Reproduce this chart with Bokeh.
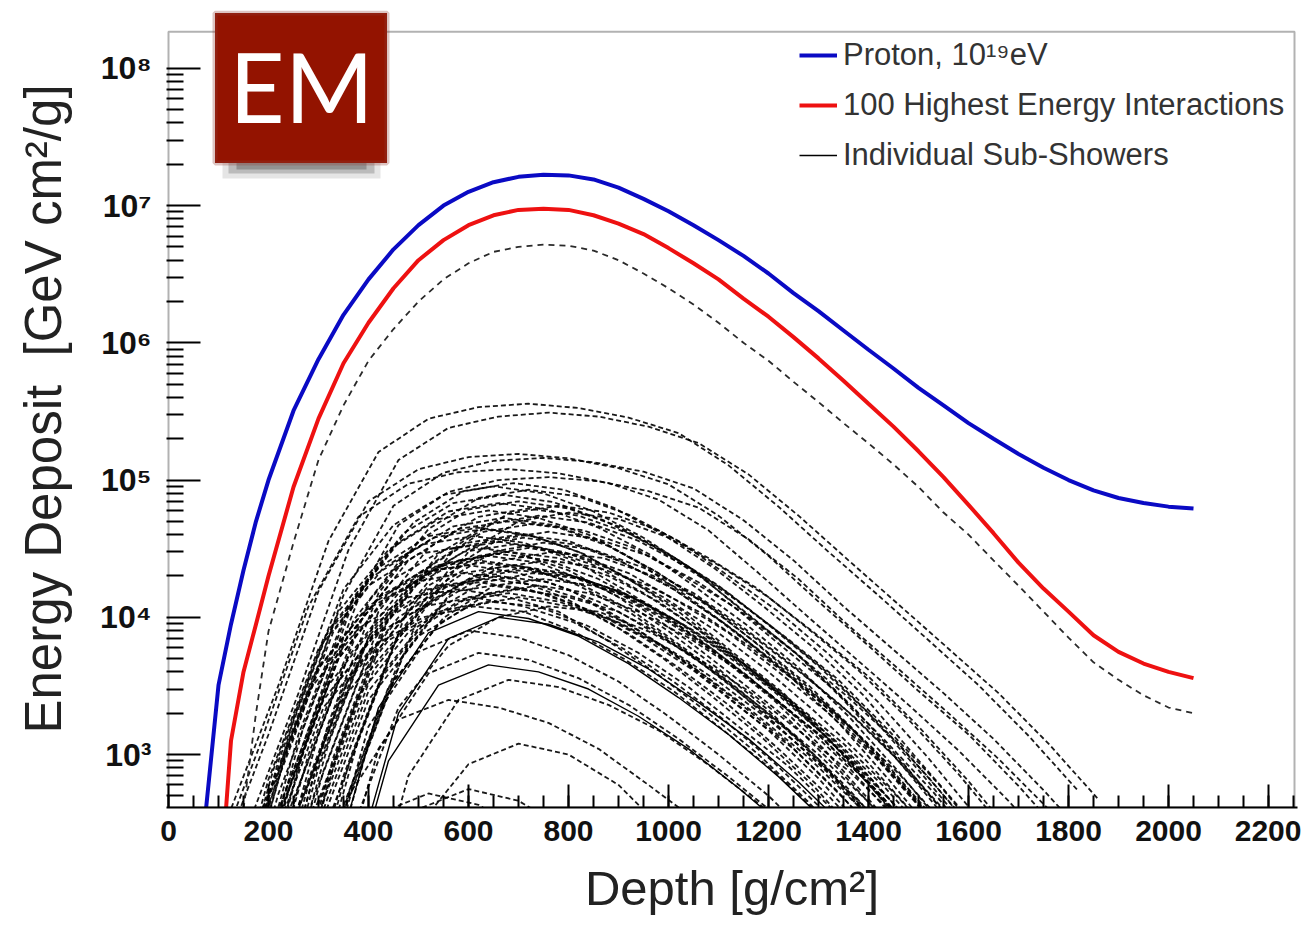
from bokeh.plotting import figure
from bokeh.models import (Range1d, SingleIntervalTicker, FixedTicker, CustomJSTickFormatter,
                          Legend, LegendItem, Label, BoxAnnotation)
from bokeh.embed import file_html
from bokeh.resources import INLINE

# ---------------- data ----------------
BLUE_DEPTH = [75, 100, 125, 150, 175, 200, 250, 300, 350, 400, 450, 500, 550, 600, 650, 700,
              750, 800, 850, 900, 950, 1000, 1050, 1100, 1150, 1200, 1250, 1300, 1350, 1400,
              1450, 1500, 1550, 1600, 1650, 1700, 1750, 1800, 1850, 1900, 1950, 2000, 2050]
PROTON = [400, 3.2e3, 8.9e3, 2.2e4, 5.0e4, 1.0e5, 3.2e5, 7.6e5, 1.6e6, 2.9e6, 4.8e6, 7.2e6,
          1.0e7, 1.26e7, 1.48e7, 1.62e7, 1.68e7, 1.66e7, 1.55e7, 1.35e7, 1.12e7, 9.1e6, 7.2e6,
          5.6e6, 4.3e6, 3.2e6, 2.3e6, 1.7e6, 1.23e6, 8.9e5, 6.5e5, 4.7e5, 3.5e5, 2.6e5, 2.0e5,
          1.55e5, 1.23e5, 1.0e5, 8.4e4, 7.4e4, 6.8e4, 6.4e4, 6.2e4]

RED_DEPTH = [115, 125, 150, 175, 200, 250, 300, 350, 400, 450, 500, 550, 600, 650, 700, 750,
             800, 850, 900, 950, 1000, 1050, 1100, 1150, 1200, 1250, 1300, 1350, 1400, 1450,
             1500, 1550, 1600, 1650, 1700, 1750, 1800, 1850, 1900, 1950, 2000, 2050]
TOP100 = [400, 1.26e3, 4.0e3, 8.9e3, 2.0e4, 8.9e4, 2.8e5, 7.1e5, 1.4e6, 2.5e6, 4.0e6, 5.6e6,
          7.2e6, 8.5e6, 9.3e6, 9.5e6, 9.3e6, 8.5e6, 7.4e6, 6.2e6, 4.9e6, 3.8e6, 2.9e6, 2.1e6,
          1.55e6, 1.1e6, 7.7e5, 5.3e5, 3.6e5, 2.45e5, 1.62e5, 1.05e5, 6.6e4, 4.1e4, 2.5e4,
          1.62e4, 1.1e4, 7.4e3, 5.6e3, 4.6e3, 4.0e3, 3.6e3]

LEAD_DEPTH = [150, 175, 200, 250, 300, 350, 400, 450, 500, 550, 600, 650, 700, 750, 800, 850,
              900, 950, 1000, 1050, 1100, 1150, 1200, 1250, 1300, 1350, 1400, 1450, 1500, 1550,
              1600, 1650, 1700, 1750, 1800, 1850, 1900, 1950, 2000, 2050]
LEAD_SUB = [400, 2.0e3, 7.9e3, 3.5e4, 1.4e5, 3.5e5, 7.4e5, 1.26e6, 2.0e6, 2.9e6, 3.8e6, 4.6e6,
            5.0e6, 5.2e6, 5.1e6, 4.7e6, 4.0e6, 3.2e6, 2.5e6, 1.9e6, 1.4e6, 1.0e6, 7.4e5, 5.2e5,
            3.7e5, 2.6e5, 1.85e5, 1.3e5, 8.9e4, 5.8e4, 4.0e4, 2.6e4, 1.7e4, 1.1e4, 7.1e3, 4.7e3,
            3.5e3, 2.7e3, 2.2e3, 2.0e3]

# individual sub-showers: first depth of each, then values sampled every 100 g/cm2
SUB_STEP = 100
SUB_START = [120, 160, 100, 150, 80, 160,
             150, 220, 200, 280, 140, 240, 180, 120, 260, 200, 150, 100, 220, 180, 140, 260,
             100, 200, 160, 120, 240, 80, 180, 140, 170, 230, 110, 190, 270, 130, 210, 90,
             250, 150, 200, 110, 300, 160,
             320, 360, 300, 320, 380, 340, 260,
             400, 300, 220,
             190, 130, 210, 250, 160, 120, 190, 230, 140, 200, 170, 220, 110, 260]
SUB_VALUES = [
    [360, 3.2e3, 3.6e4, 1.6e5, 2.8e5, 3.4e5, 3.6e5, 3.35e5, 2.85e5, 2.2e5, 1.28e5, 6.4e4, 3.0e4, 1.44e4, 6.8e3, 3.2e3, 1.37e3, 540],
    [310, 2.8e3, 3.1e4, 1.4e5, 2.4e5, 2.9e5, 3.1e5, 2.9e5, 2.45e5, 1.86e5, 1.1e5, 5.5e4, 2.6e4, 1.24e4, 5.9e3, 2.8e3, 1.2e3, 470],
    [155, 1.4e3, 1.55e4, 7.0e4, 1.2e5, 1.47e5, 1.55e5, 1.44e5, 1.22e5, 9.3e4, 5.5e4, 2.8e4, 1.3e4, 6.2e3, 2.9e3, 1.4e3, 590, 230],
    [145, 1.3e3, 1.45e4, 6.5e4, 1.13e5, 1.38e5, 1.45e5, 1.35e5, 1.15e5, 8.7e4, 5.1e4, 2.6e4, 1.2e4, 5.8e3, 2.8e3, 1.3e3, 550, 220],
    [120, 1.1e3, 1.2e4, 5.4e4, 9.4e4, 1.14e5, 1.2e5, 1.12e5, 9.5e4, 7.2e4, 4.3e4, 2.1e4, 1.0e4, 4.8e3, 2.3e3, 1.07e3, 460, 180],
    [105, 950, 1.05e4, 4.7e4, 8.2e4, 1.0e5, 1.05e5, 9.8e4, 8.3e4, 6.3e4, 3.7e4, 1.9e4, 8.7e3, 4.2e3, 2.0e3, 930, 400, 160],
    [90, 1.8e3, 1.6e4, 4.7e4, 7.8e4, 9.0e4, 8.0e4, 5.9e4, 3.8e4, 2.2e4, 1.1e4, 5.7e3, 2.5e3, 990, 360, 110],
    [85, 1.7e3, 1.5e4, 4.4e4, 7.4e4, 8.5e4, 7.6e4, 5.6e4, 3.6e4, 2.0e4, 1.1e4, 5.4e3, 2.4e3, 940, 340, 110],
    [70, 1.4e3, 1.3e4, 3.6e4, 6.1e4, 7.0e4, 6.2e4, 4.6e4, 2.9e4, 1.7e4, 8.8e3, 4.4e3, 2.0e3, 770, 280, 90],
    [65, 1.3e3, 1.2e4, 3.4e4, 5.7e4, 6.5e4, 5.8e4, 4.3e4, 2.7e4, 1.6e4, 8.2e3, 4.1e3, 1.8e3, 720, 260, 80],
    [60, 1.2e3, 1.1e4, 3.1e4, 5.2e4, 6.0e4, 5.3e4, 4.0e4, 2.5e4, 1.4e4, 7.6e3, 3.8e3, 1.7e3, 660, 240, 76],
    [55, 1.1e3, 9.9e3, 2.9e4, 4.8e4, 5.5e4, 4.9e4, 3.6e4, 2.3e4, 1.3e4, 6.9e3, 3.5e3, 1.5e3, 610, 220, 69],
    [50, 1.0e3, 9.0e3, 2.6e4, 4.4e4, 5.0e4, 4.5e4, 3.3e4, 2.1e4, 1.2e4, 6.3e3, 3.2e3, 1.4e3, 550, 200, 63],
    [45, 900, 8.1e3, 2.3e4, 3.9e4, 4.5e4, 4.0e4, 3.0e4, 1.9e4, 1.1e4, 5.7e3, 2.8e3, 1.3e3, 500, 180, 57],
    [42, 840, 7.6e3, 2.2e4, 3.7e4, 4.2e4, 3.7e4, 2.8e4, 1.8e4, 1.0e4, 5.3e3, 2.6e3, 1.2e3, 460, 170, 53],
    [40, 800, 7.2e3, 2.1e4, 3.5e4, 4.0e4, 3.6e4, 2.6e4, 1.7e4, 9.6e3, 5.0e3, 2.5e3, 1.1e3, 440, 160, 50],
    [36, 720, 6.5e3, 1.9e4, 3.1e4, 3.6e4, 3.2e4, 2.4e4, 1.5e4, 8.6e3, 4.5e3, 2.3e3, 1.0e3, 400, 140, 45],
    [33, 660, 5.9e3, 1.7e4, 2.9e4, 3.3e4, 2.9e4, 2.2e4, 1.4e4, 7.9e3, 4.2e3, 2.1e3, 920, 360, 130, 42],
    [32, 640, 5.8e3, 1.7e4, 2.8e4, 3.2e4, 2.8e4, 2.1e4, 1.3e4, 7.7e3, 4.0e3, 2.0e3, 900, 350, 130, 40],
    [30, 600, 5.4e3, 1.6e4, 2.6e4, 3.0e4, 2.7e4, 2.0e4, 1.3e4, 7.2e3, 3.8e3, 1.9e3, 840, 330, 120, 38],
    [28, 560, 5.0e3, 1.5e4, 2.4e4, 2.8e4, 2.5e4, 1.8e4, 1.2e4, 6.7e3, 3.5e3, 1.8e3, 780, 310, 110, 35],
    [26, 520, 4.7e3, 1.4e4, 2.3e4, 2.6e4, 2.3e4, 1.7e4, 1.1e4, 6.2e3, 3.3e3, 1.6e3, 730, 290, 100, 33],
    [24, 480, 4.3e3, 1.2e4, 2.1e4, 2.4e4, 2.1e4, 1.6e4, 1.0e4, 5.8e3, 3.0e3, 1.5e3, 670, 260, 96, 30],
    [22, 440, 4.0e3, 1.1e4, 1.9e4, 2.2e4, 2.0e4, 1.5e4, 9.2e3, 5.3e3, 2.8e3, 1.4e3, 620, 240, 88, 28],
    [20, 400, 3.6e3, 1.0e4, 1.7e4, 2.0e4, 1.8e4, 1.3e4, 8.4e3, 4.8e3, 2.5e3, 1.3e3, 560, 220, 80, 25],
    [18, 360, 3.2e3, 9.4e3, 1.6e4, 1.8e4, 1.6e4, 1.2e4, 7.6e3, 4.3e3, 2.3e3, 1.1e3, 500, 200, 72, 23],
    [17, 340, 3.1e3, 8.8e3, 1.5e4, 1.7e4, 1.5e4, 1.1e4, 7.1e3, 4.1e3, 2.1e3, 1.1e3, 480, 190, 68, 21],
    [16, 320, 2.9e3, 8.3e3, 1.4e4, 1.6e4, 1.4e4, 1.1e4, 6.7e3, 3.8e3, 2.0e3, 1.0e3, 450, 180, 64, 20],
    [15, 300, 2.7e3, 7.8e3, 1.3e4, 1.5e4, 1.3e4, 9.9e3, 6.3e3, 3.6e3, 1.9e3, 950, 420, 165, 60, 19],
    [13, 260, 2.3e3, 6.8e3, 1.1e4, 1.3e4, 1.2e4, 8.6e3, 5.5e3, 3.1e3, 1.6e3, 820, 360, 140, 52, 16],
    [78, 1.6e3, 1.4e4, 4.1e4, 6.8e4, 7.8e4, 6.9e4, 5.1e4, 3.3e4, 1.9e4, 9.8e3, 4.9e3, 2.2e3, 860, 310, 98],
    [48, 960, 8.6e3, 2.5e4, 4.2e4, 4.8e4, 4.3e4, 3.2e4, 2.0e4, 1.2e4, 6.0e3, 3.0e3, 1.3e3, 530, 190, 60],
    [39, 780, 7.0e3, 2.0e4, 3.4e4, 3.9e4, 3.5e4, 2.6e4, 1.6e4, 9.4e3, 4.9e3, 2.5e3, 1.1e3, 430, 160, 49],
    [34, 680, 6.1e3, 1.8e4, 3.0e4, 3.4e4, 3.0e4, 2.2e4, 1.4e4, 8.2e3, 4.3e3, 2.1e3, 950, 370, 140, 43],
    [30, 600, 5.4e3, 1.6e4, 2.6e4, 3.0e4, 2.7e4, 2.0e4, 1.3e4, 7.2e3, 3.8e3, 1.9e3, 840, 330, 120, 38],
    [25, 500, 4.5e3, 1.3e4, 2.2e4, 2.5e4, 2.2e4, 1.7e4, 1.1e4, 6.0e3, 3.2e3, 1.6e3, 700, 280, 100, 32],
    [23, 460, 4.1e3, 1.2e4, 2.0e4, 2.3e4, 2.0e4, 1.5e4, 9.7e3, 5.5e3, 2.9e3, 1.4e3, 640, 250, 92, 29],
    [21, 420, 3.8e3, 1.1e4, 1.8e4, 2.1e4, 1.9e4, 1.4e4, 8.8e3, 5.0e3, 2.6e3, 1.3e3, 590, 230, 84, 26],
    [19, 380, 3.4e3, 9.9e3, 1.7e4, 1.9e4, 1.7e4, 1.3e4, 8.0e3, 4.6e3, 2.4e3, 1.2e3, 530, 210, 76, 24],
    [17, 340, 3.1e3, 8.8e3, 1.5e4, 1.7e4, 1.5e4, 1.1e4, 7.1e3, 4.1e3, 2.1e3, 1.1e3, 480, 190, 68, 21],
    [14, 280, 2.5e3, 7.3e3, 1.2e4, 1.4e4, 1.2e4, 9.2e3, 5.9e3, 3.4e3, 1.8e3, 880, 390, 150, 56, 18],
    [12, 240, 2.2e3, 6.2e3, 1.0e4, 1.2e4, 1.1e4, 7.9e3, 5.0e3, 2.9e3, 1.5e3, 760, 340, 130, 48, 15],
    [58, 1.2e3, 1.0e4, 3.0e4, 5.0e4, 5.8e4, 5.2e4, 3.8e4, 2.4e4, 1.4e4, 7.3e3, 3.7e3, 1.6e3, 640, 230, 73],
    [68, 1.4e3, 1.2e4, 3.5e4, 5.9e4, 6.8e4, 6.1e4, 4.5e4, 2.9e4, 1.6e4, 8.6e3, 4.3e3, 1.9e3, 750, 270, 86],
    [110, 2.2e3, 7.7e3, 1.1e4, 9.8e3, 7.3e3, 4.6e3, 2.6e3, 1.4e3, 690, 310, 120],
    [100, 2.0e3, 7.0e3, 1.0e4, 8.9e3, 6.6e3, 4.2e3, 2.4e3, 1.3e3, 630, 280, 110],
    [80, 1.6e3, 5.6e3, 8.0e3, 7.1e3, 5.3e3, 3.4e3, 1.9e3, 1.0e3, 500, 220, 88],
    [55, 1.1e3, 3.9e3, 5.5e3, 4.9e3, 3.6e3, 2.3e3, 1.3e3, 690, 350, 150, 60],
    [35, 700, 2.5e3, 3.5e3, 3.1e3, 2.3e3, 1.5e3, 840, 440, 220, 98, 39],
    [45, 900, 3.2e3, 4.5e3, 4.0e3, 3.0e3, 1.9e3, 1.1e3, 570, 280, 126, 50],
    [25, 500, 1.8e3, 2.5e3, 2.2e3, 1.7e3, 1.1e3, 600, 320, 160, 70, 28],
    [38, 300, 850, 1.2e3, 1.0e3, 600, 260, 95, 30],
    [18, 140, 400, 560, 460, 280, 120, 44],
    [17, 130, 370, 520, 430, 260, 115, 41],
    [95, 1.9e3, 1.7e4, 4.9e4, 8.3e4, 9.5e4, 8.5e4, 6.3e4, 4.0e4, 2.3e4, 1.2e4, 6.0e3, 2.7e3, 1.0e3, 380, 120],
    [44, 880, 7.9e3, 2.3e4, 3.8e4, 4.4e4, 3.9e4, 2.9e4, 1.8e4, 1.1e4, 5.5e3, 2.8e3, 1.2e3, 480, 180, 55],
    [38, 760, 6.8e3, 2.0e4, 3.3e4, 3.8e4, 3.4e4, 2.5e4, 1.6e4, 9.1e3, 4.8e3, 2.4e3, 1.1e3, 420, 150, 48],
    [35, 700, 6.3e3, 1.8e4, 3.0e4, 3.5e4, 3.1e4, 2.3e4, 1.5e4, 8.4e3, 4.4e3, 2.2e3, 980, 390, 140, 44],
    [29, 580, 5.2e3, 1.5e4, 2.5e4, 2.9e4, 2.6e4, 1.9e4, 1.2e4, 7.0e3, 3.7e3, 1.8e3, 810, 320, 116, 37],
    [26, 520, 4.7e3, 1.4e4, 2.3e4, 2.6e4, 2.3e4, 1.7e4, 1.1e4, 6.2e3, 3.3e3, 1.6e3, 730, 290, 100, 33],
    [24, 480, 4.3e3, 1.2e4, 2.1e4, 2.4e4, 2.1e4, 1.6e4, 1.0e4, 5.8e3, 3.0e3, 1.5e3, 670, 260, 96, 30],
    [21, 420, 3.8e3, 1.1e4, 1.8e4, 2.1e4, 1.9e4, 1.4e4, 8.8e3, 5.0e3, 2.6e3, 1.3e3, 590, 230, 84, 26],
    [19, 380, 3.4e3, 9.9e3, 1.7e4, 1.9e4, 1.7e4, 1.3e4, 8.0e3, 4.6e3, 2.4e3, 1.2e3, 530, 210, 76, 24],
    [16, 320, 2.9e3, 8.3e3, 1.4e4, 1.6e4, 1.4e4, 1.1e4, 6.7e3, 3.8e3, 2.0e3, 1.0e3, 450, 180, 64, 20],
    [53, 1.1e3, 9.5e3, 2.8e4, 4.6e4, 5.3e4, 4.7e4, 3.5e4, 2.2e4, 1.3e4, 6.7e3, 3.3e3, 1.5e3, 580, 210, 67],
    [62, 1.2e3, 1.1e4, 3.2e4, 5.4e4, 6.2e4, 5.5e4, 4.1e4, 2.6e4, 1.5e4, 7.8e3, 3.9e3, 1.7e3, 680, 250, 78],
    [14, 280, 2.5e3, 7.3e3, 1.2e4, 1.4e4, 1.2e4, 9.2e3, 5.9e3, 3.4e3, 1.8e3, 880, 390, 150, 56, 18],
    [12, 240, 2.2e3, 6.2e3, 1.0e4, 1.2e4, 1.1e4, 7.9e3, 5.0e3, 2.9e3, 1.5e3, 760, 340, 130, 48, 15],
]
SUB_SOLID = [44, 45, 49]   # sub-showers drawn with a solid line

X_TICKS_STEP = 200
Y_MAJOR = [1e3, 1e4, 1e5, 1e6, 1e7, 1e8]
X_FRAME = (0, 2252)          # drawn frame: depth limits
Y_FRAME = (411, 1.85e8)      # drawn frame: energy-deposit limits

LABELS = ["Proton, 10\u00b9\u2079eV", "100 Highest Energy Interactions", "Individual Sub-Showers"]
X_TITLE = "Depth [g/cm\u00b2]"
Y_TITLE = "Energy Deposit \u00a0[GeV cm\u00b2/g]"

# ---------------- figure ----------------
# the plotting area reaches a little above the drawn frame so that the EM badge can sit over it
p = figure(width=1301, height=917, x_range=Range1d(-4, 2258), y_range=Range1d(411, 2.64e8),
           y_axis_type="log", output_backend="svg", toolbar_location=None,
           min_border_left=166, min_border_right=4, min_border_top=10, min_border_bottom=110)
p.grid.visible = False
p.outline_line_alpha = 0
p.background_fill_color = "white"
p.border_fill_color = "white"

dash_xs, dash_ys, solid_xs, solid_ys = [], [], [], []
for i, (s, vals) in enumerate(zip(SUB_START, SUB_VALUES)):
    xs = [s + SUB_STEP * k for k in range(len(vals))]
    if i in SUB_SOLID:
        solid_xs.append(xs); solid_ys.append(vals)
    else:
        dash_xs.append(xs); dash_ys.append(vals)

p.multi_line(dash_xs, dash_ys, line_color="black", line_width=1.8, line_dash="5 3", line_alpha=0.9)
r_sub = p.multi_line(solid_xs, solid_ys, line_color="black", line_width=1.4)
p.line(LEAD_DEPTH, LEAD_SUB, line_color="#2a2a2a", line_width=1.8, line_dash="6 5")
r_red = p.line(RED_DEPTH, TOP100, line_color="#ee1111", line_width=4)
r_blue = p.line(BLUE_DEPTH, PROTON, line_color="#0a0ac4", line_width=4)

# frame
p.add_layout(BoxAnnotation(left=X_FRAME[0], right=X_FRAME[1], bottom=Y_FRAME[0], top=Y_FRAME[1],
                           fill_alpha=0, line_color="black", line_width=2, level="overlay"))

# axes
xa = p.xaxis[0]
xa.ticker = SingleIntervalTicker(interval=X_TICKS_STEP, num_minor_ticks=4)
ya = p.yaxis[0]
minor = [m * d for d in [1e2, 1e3, 1e4, 1e5, 1e6, 1e7, 1e8] for m in range(2, 10)
         if m * d < Y_FRAME[1]]
ya.ticker = FixedTicker(ticks=Y_MAJOR, minor_ticks=minor)
ya.formatter = CustomJSTickFormatter(code="""
const sup = {"0":"\u2070","1":"\u00b9","2":"\u00b2","3":"\u00b3","4":"\u2074","5":"\u2075","6":"\u2076","7":"\u2077","8":"\u2078","9":"\u2079","-":"\u207b"};
const e = Math.round(Math.log10(tick));
return "10" + String(e).split("").map(c => sup[c]).join("");
""")
for ax in (xa, ya):
    ax.major_tick_out = 0
    ax.minor_tick_out = 0
    ax.axis_line_width = 2
    ax.major_tick_line_width = 2
    ax.minor_tick_line_width = 2
    ax.major_label_text_font = "Liberation Sans"
    ax.major_label_text_font_style = "bold"
    ax.major_label_text_color = "#111111"
    ax.axis_label_text_font = "Liberation Sans"
    ax.axis_label_text_font_style = "normal"
    ax.axis_label_text_color = "#222222"
ya.axis_line_alpha = 0
xa.major_label_text_font_size = "30px"
ya.major_label_text_font_size = "32px"
xa.axis_label_text_font_size = "49px"
ya.axis_label_text_font_size = "51px"
xa.major_tick_in = 23
xa.minor_tick_in = 12
ya.major_tick_in = 34
ya.minor_tick_in = 17
xa.major_label_standoff = 13
ya.major_label_standoff = 15
xa.axis_label = X_TITLE
ya.axis_label = Y_TITLE
xa.axis_label_standoff = 17
ya.axis_label_standoff = 25

legend = Legend(items=[LegendItem(label=LABELS[0], renderers=[r_blue]),
                       LegendItem(label=LABELS[1], renderers=[r_red]),
                       LegendItem(label=LABELS[2], renderers=[r_sub])],
                location=(630, 631), label_text_font="Liberation Sans",
                label_text_font_size="31px", label_text_color="#333333",
                glyph_width=38, glyph_height=36, label_height=36, label_standoff=6,
                spacing=14, padding=3, border_line_alpha=0, background_fill_alpha=0)
p.add_layout(legend)

# EM badge (soft drop shadow, then the box, then its text)
def canvas_box(l, r, t, b, **kw):
    return BoxAnnotation(left=l, right=r, top=t, bottom=b, left_units="canvas",
                         right_units="canvas", top_units="canvas", bottom_units="canvas",
                         level="overlay", **kw)

p.add_layout(canvas_box(222, 380, 20, 178, fill_color="black", fill_alpha=0.10, line_alpha=0))
p.add_layout(canvas_box(228, 374, 20, 173, fill_color="black", fill_alpha=0.18, line_alpha=0))
p.add_layout(canvas_box(236, 366, 20, 169, fill_color="black", fill_alpha=0.22, line_alpha=0))
p.add_layout(canvas_box(214.5, 386.5, 12.5, 162.5, fill_color="#931300", fill_alpha=1,
                        line_color="#8e3a34", line_width=5))
p.add_layout(Label(x=301, y=85, x_units="canvas", y_units="canvas", text="EM",
                   text_align="center", text_baseline="middle", text_color="white",
                   text_font="Lato", text_font_size="96px", level="overlay"))

open("out.html", "w").write(file_html(p, INLINE))
